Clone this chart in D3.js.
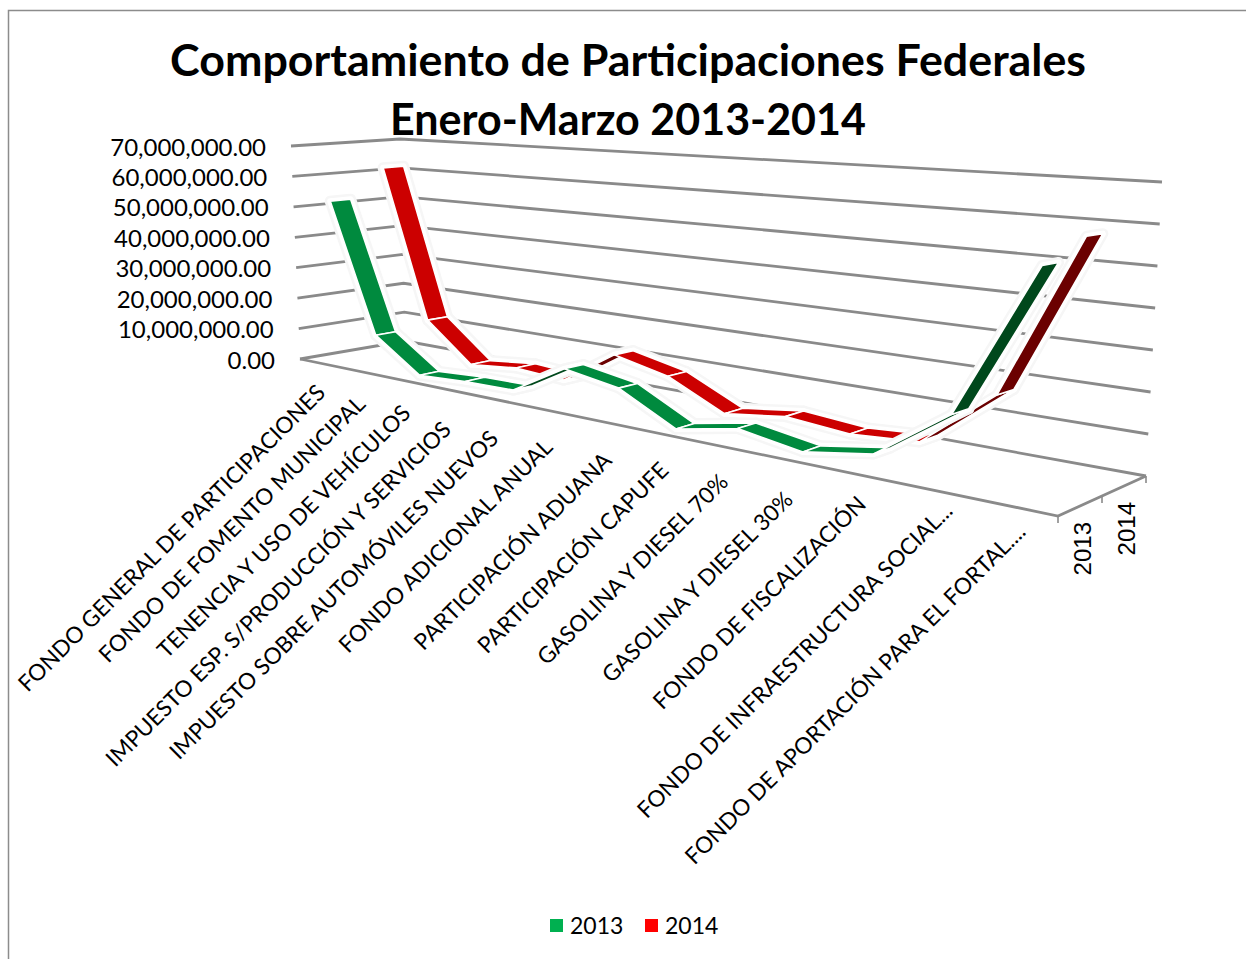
<!DOCTYPE html>
<html>
<head>
<meta charset="utf-8">
<script src="https://cdn.jsdelivr.net/npm/d3@7/dist/d3.min.js"></script>
<style>html,body{margin:0;padding:0;background:#fff}svg{display:block}text{font-family:Lato,"Open Sans",sans-serif;fill:#000}</style>
</head>
<body>
<svg id="chart" width="1246" height="959"></svg>
<script>
const categories = ["FONDO GENERAL DE PARTICIPACIONES","FONDO DE FOMENTO MUNICIPAL","TENENCIA Y USO DE VEHÍCULOS","IMPUESTO ESP. S/PRODUCCIÓN Y SERVICIOS","IMPUESTO SOBRE AUTOMÓVILES NUEVOS","FONDO ADICIONAL ANUAL","PARTICIPACIÓN ADUANA","PARTICIPACIÓN CAPUFE","GASOLINA Y DIESEL 70%","GASOLINA Y DIESEL 30%","FONDO DE FISCALIZACIÓN","FONDO DE INFRAESTRUCTURA SOCIAL...","FONDO DE APORTACIÓN PARA EL FORTAL...."];
const values2013 = [52000000,10600000,600000,1500000,1800000,10700000,8100000,100000,3400000,800000,3700000,16200000,52400000];
const values2014 = [61500000,12600000,700000,2300000,1300000,11500000,8000000,400000,2700000,1300000,2600000,17300000,57400000];
const seriesNames = ["2013","2014"];
const yTicks = [0,10000000,20000000,30000000,40000000,50000000,60000000,70000000];
const titleLines = ["Comportamiento de Participaciones Federales","Enero-Marzo 2013-2014"];
const titleWidths = [916,476];
const labelNudges = [[7,31],[6,34],[8,34],[3,41],[2,40],[5,38],[10,40],[9,38],[7,37],[6,41],[9,31],[20,22],[12,26]];

const svg = d3.select("#chart");
const GRAY = "#8a8a8a";

// Box corners on screen: [floor, top of wall]
const FL=[300,359], FR=[1058,516], BL=[405,341], BR=[1146,476];
const FLt=[291,146], FRt=[1078,190], BLt=[400,139], BRt=[1162,182];
const k = 1.5;
const warp = t => t/(t + k*(1-t));
const xBand = d3.scaleBand().domain(categories).range([0,1]);
const zBand = d3.scalePoint().domain(seriesNames).range([0.25,0.75]);
const yScale = d3.scaleLinear().domain([0,70000000]).range([0,1]);
const lerp = (a,b,t)=>[a[0]+(b[0]-a[0])*t,a[1]+(b[1]-a[1])*t];
function project(g,v,h){
  const floor = lerp(lerp(FL,FR,g),lerp(BL,BR,g),v);
  const top = lerp(lerp(FLt,FRt,g),lerp(BLt,BRt,g),v);
  return lerp(floor,top,h);
}
const catG = c => warp(xBand(c)+xBand.bandwidth()/2);
const line = d3.line();

// Gridlines on the two walls
const grid = svg.append("g").attr("fill","none").attr("stroke",GRAY).attr("stroke-width",2.8);
yTicks.forEach(t=>{
  const h=yScale(t);
  grid.append("path").attr("d",line([project(0,0,h),project(0,1,h),project(1,1,h)]));
});
// Floor edges and depth ticks
grid.append("path").attr("d",line([project(0,0,0),project(1,0,0),project(1,1,0)]));
const axisTicks = svg.append("g").attr("stroke",GRAY).attr("stroke-width",1.6);
[0,0.5,1].forEach(v=>{
  const p=project(1,v,0);
  axisTicks.append("line").attr("x1",p[0]).attr("y1",p[1]).attr("x2",p[0]).attr("y2",p[1]+7);
});

// Ribbons
const halfDepth = 0.095;
const seriesList = [
  {name:"2014",values:values2014,top:"#cc0000",under:"#6b0000",legend:"#ff0000"},
  {name:"2013",values:values2013,top:"#008a3e",under:"#00481c",legend:"#00b050"}
];
seriesList.forEach(s=>{
  const v0=zBand(s.name);
  const segs=d3.pairs(categories.map((c,i)=>({g:catG(c),h:yScale(s.values[i])}))).map(([a,b])=>{
    const poly=[project(a.g,v0-halfDepth,a.h),project(b.g,v0-halfDepth,b.h),project(b.g,v0+halfDepth,b.h),project(a.g,v0+halfDepth,a.h)];
    const ax=poly[1][0]-poly[0][0], ay=poly[1][1]-poly[0][1], dx=poly[3][0]-poly[0][0], dy=poly[3][1]-poly[0][1];
    return {poly,under:(ax*dy-ay*dx)>0};
  });
  const g=svg.append("g");
  const draw=(cls,fill,stroke,w)=>g.selectAll("path."+cls).data(segs).join("path").attr("class",cls)
    .attr("d",d=>line(d.poly)+"Z").attr("fill",fill).attr("stroke",stroke).attr("stroke-width",w).attr("stroke-linejoin","round");
  draw("halo","#f6f6f6","#f6f6f6",11);
  draw("inner","#fff","#fff",6);
  draw("face",d=>d.under?s.under:s.top,"#fff",1.6);
});

// Value labels
svg.append("g").selectAll("text").data(yTicks).join("text")
  .attr("x",t=>project(0,0,yScale(t))[0]-25)
  .attr("y",t=>project(0,0,yScale(t))[1]+9.5)
  .attr("text-anchor","end").attr("font-size",24)
  .text(t=>d3.format(",.2f")(t));

// Category labels
svg.append("g").selectAll("text").data(categories).join("text")
  .attr("text-anchor","end").attr("font-size",22.6)
  .attr("transform",(c,i)=>{const p=project(catG(c),0,0);return `translate(${p[0]+labelNudges[i][0]},${p[1]+labelNudges[i][1]}) rotate(-45)`;})
  .text(c=>c);

// Depth labels
svg.append("g").selectAll("text").data(seriesNames).join("text")
  .attr("text-anchor","end").attr("font-size",24)
  .style("font-family","'Liberation Sans'")
  .attr("transform",n=>{const p=project(1,zBand(n),0);return `translate(${p[0]+11},${p[1]+16}) rotate(-90)`;})
  .text(n=>n);

// Title
svg.append("g").selectAll("text").data(titleLines).join("text")
  .attr("x",628).attr("y",(d,i)=>76+i*59).attr("text-anchor","middle")
  .attr("font-size",44).attr("font-weight",700)
  .attr("textLength",(d,i)=>titleWidths[i]).attr("lengthAdjust","spacingAndGlyphs").text(d=>d);

// Legend
const legendX = d3.scaleOrdinal().domain(seriesNames).range([550,645]);
const legend = svg.append("g").selectAll("g").data(seriesList).join("g")
  .attr("transform",d=>`translate(${legendX(d.name)},919)`);
legend.append("rect").attr("width",13).attr("height",13).attr("fill",d=>d.legend);
legend.append("text").attr("x",20).attr("y",15).attr("font-size",23).text(d=>d.name);

// Chart frame (top and left edges)
svg.append("path").attr("d",line([[8.5,959],[8.5,10.5],[1246,10.5]])).attr("fill","none").attr("stroke","#8c8c8c").attr("stroke-width",1.5);
</script>
</body>
</html>
